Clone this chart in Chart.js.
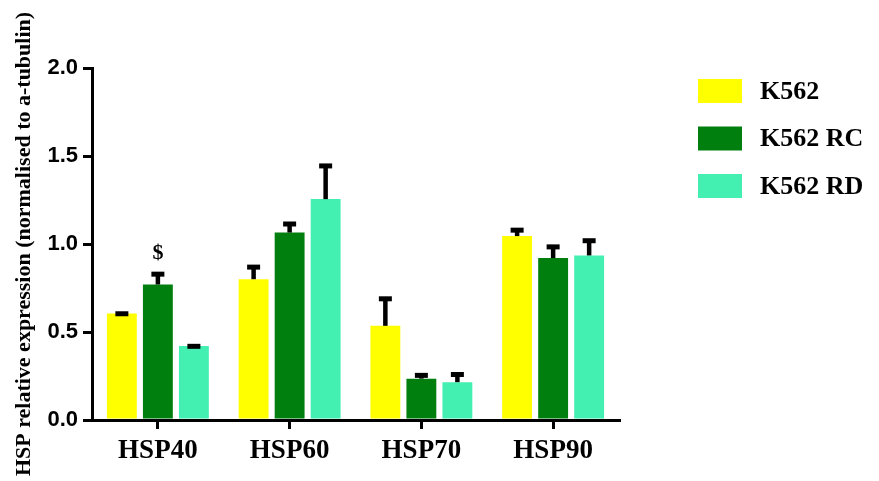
<!DOCTYPE html>
<html>
<head>
<meta charset="utf-8">
<script src="https://cdn.jsdelivr.net/npm/chart.js@4/dist/chart.umd.min.js"></script>
<style>
html,body{margin:0;padding:0;background:#fff;}
#wrap{width:879px;height:481px;position:relative;}
</style>
</head>
<body>
<div id="wrap"><canvas id="c" width="879" height="481"></canvas></div>
<script>
const categories = ['HSP40', 'HSP60', 'HSP70', 'HSP90'];
const seriesNames = ['K562', 'K562 RC', 'K562 RD'];
const k562 = [0.605, 0.80, 0.535, 1.045];
const k562RC = [0.77, 1.065, 0.235, 0.92];
const k562RD = [0.42, 1.255, 0.215, 0.935];
const k562Err = [0.01, 0.08, 0.165, 0.045];
const k562RCErr = [0.07, 0.06, 0.03, 0.075];
const k562RDErr = [0.01, 0.20, 0.055, 0.095];
const yTicks = [0, 0.5, 1.0, 1.5, 2.0];
const annotations = [{series: 1, category: 0, text: '$'}];
const colors = ['#FFFF00', '#007F0E', '#43EFB1'];

const values = [k562, k562RC, k562RD];
const errors = [k562Err, k562RCErr, k562RDErr];

const errorBars = {
  id: 'errorBars',
  afterDatasetsDraw(chart) {
    const ctx = chart.ctx, y = chart.scales.y;
    ctx.save();
    ctx.strokeStyle = '#000';
    chart.data.datasets.forEach((ds, di) => {
      const meta = chart.getDatasetMeta(di);
      meta.data.forEach((el, i) => {
        const top = y.getPixelForValue(ds.data[i] + ds.errors[i]);
        const base = el.y;
        ctx.lineWidth = 4.5;
        ctx.beginPath();
        ctx.moveTo(el.x, base);
        ctx.lineTo(el.x, top + 2);
        ctx.stroke();
        ctx.lineWidth = 5;
        ctx.beginPath();
        ctx.moveTo(el.x - 6.5, top + 2);
        ctx.lineTo(el.x + 6.5, top + 2);
        ctx.stroke();
      });
    });
    ctx.fillStyle = '#000';
    ctx.font = 'bold 22px "Liberation Serif"';
    ctx.textAlign = 'center';
    ctx.textBaseline = 'bottom';
    annotations.forEach(a => {
      const el = chart.getDatasetMeta(a.series).data[a.category];
      const ds = chart.data.datasets[a.series];
      const top = y.getPixelForValue(ds.data[a.category] + ds.errors[a.category]);
      ctx.fillText(a.text, el.x, top - 8);
    });
    ctx.restore();
  }
};

const customLegend = {
  id: 'customLegend',
  afterDraw(chart) {
    const ctx = chart.ctx;
    ctx.save();
    ctx.font = 'bold 26px "Liberation Serif"';
    ctx.textBaseline = 'middle';
    ctx.textAlign = 'left';
    chart.data.datasets.forEach((ds, i) => {
      const cy = 91 + i * 47.5;
      ctx.fillStyle = ds.backgroundColor;
      ctx.fillRect(698, cy - 12, 44, 24);
      ctx.fillStyle = '#000';
      ctx.fillText(ds.label, 760, cy + 1);
    });
    ctx.restore();
  }
};

new Chart(document.getElementById('c'), {
  type: 'bar',
  data: {
    labels: categories,
    datasets: seriesNames.map((n, i) => ({
      label: n,
      data: values[i],
      errors: errors[i],
      backgroundColor: colors[i],
      borderWidth: 0,
      categoryPercentage: 0.82,
      barPercentage: 0.83
    }))
  },
  options: {
    responsive: false,
    animation: false,
    devicePixelRatio: 1,
    layout: {padding: {top: 68, right: 260, left: 0, bottom: 0}},
    plugins: {legend: {display: false}, tooltip: {enabled: false}},
    scales: {
      x: {
        afterFit(s) { s.height = 61; },
        grid: {drawOnChartArea: false, offset: false, tickLength: 9, lineWidth: 3, color: '#000'},
        border: {display: true, color: '#000', width: 3},
        ticks: {color: '#000', padding: 6, font: {family: 'Liberation Serif', weight: 'bold', size: 27}}
      },
      y: {
        min: 0, max: 2,
        afterFit(s) { s.width = 92; },
        afterBuildTicks(s) { s.ticks = yTicks.map(v => ({value: v})); },
        grid: {drawOnChartArea: false, tickLength: 9, lineWidth: 3, color: '#000'},
        border: {display: true, color: '#000', width: 3},
        ticks: {color: '#000', padding: 5, font: {family: 'Liberation Sans', weight: 'bold', size: 22},
          callback: v => Number(v).toFixed(1)},
        title: {display: true, text: 'HSP relative expression (normalised to a-tubulin)', color: '#000',
          padding: {top: 11, bottom: 0},
          font: {family: 'Liberation Serif', weight: 'bold', size: 22}}
      }
    }
  },
  plugins: [errorBars, customLegend]
});
</script>
</body>
</html>
